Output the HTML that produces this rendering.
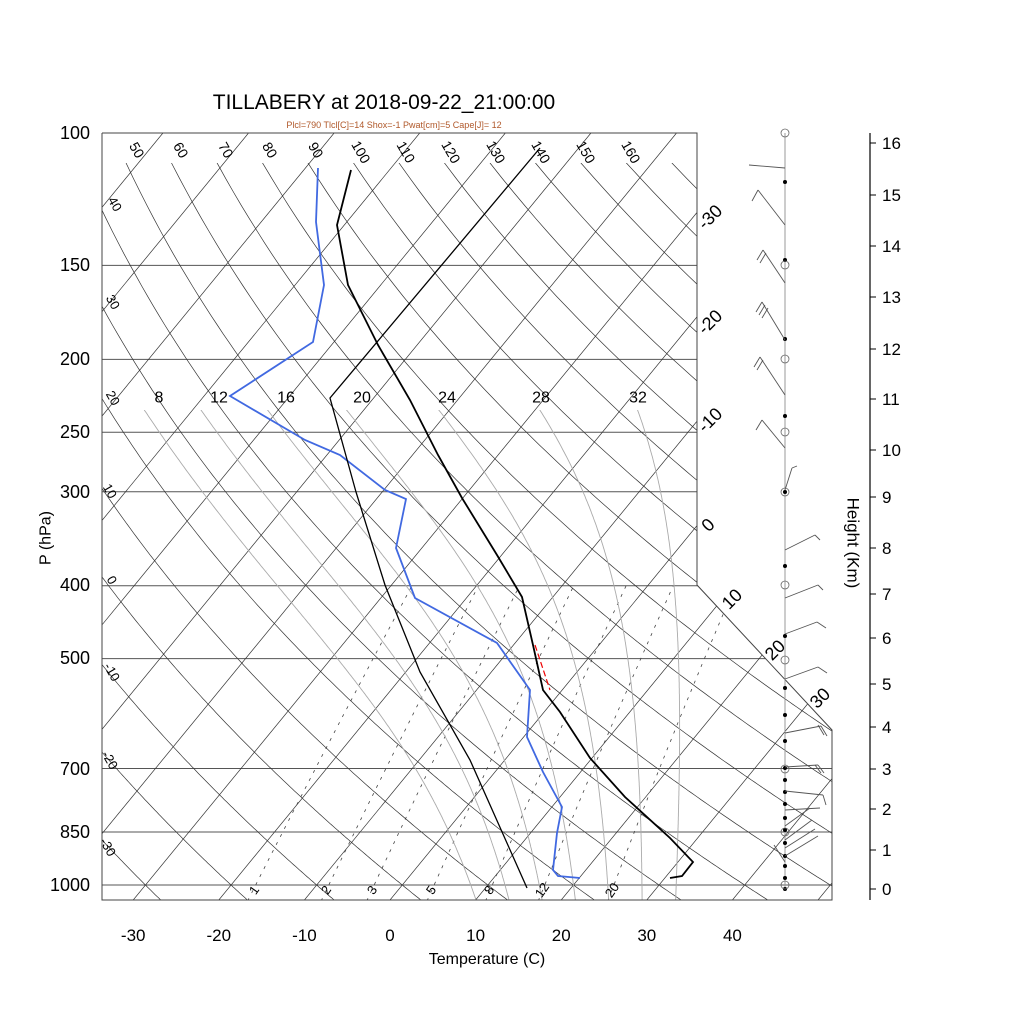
<!DOCTYPE html>
<html><head><meta charset="utf-8"><style>
html,body{margin:0;padding:0;background:#fff;}
svg{display:block;font-family:"Liberation Sans",Arial,sans-serif;}
</style></head><body>
<svg id="s" width="1024" height="1024" viewBox="0 0 1024 1024" xmlns="http://www.w3.org/2000/svg">
<defs><clipPath id="cp"><polygon points="102,133 697,133 697,585 832,730 832,900 102,900"/></clipPath>
<clipPath id="cpa"><polygon points="120,163 697,163 697,585 832,730 832,900 102,900 102,163"/></clipPath>
<clipPath id="cpm"><polygon points="102,410 697,410 697,585 832,730 832,900 102,900"/></clipPath>
</defs>
<rect width="1024" height="1024" fill="#fff"/>
<text x="384" y="109" font-size="21" text-anchor="middle">TILLABERY at 2018-09-22_21:00:00</text>
<text x="394" y="128" font-size="9" fill="#b0582a" text-anchor="middle">Plcl=790 Tlcl[C]=14 Shox=-1 Pwat[cm]=5 Cape[J]= 12</text>
<g id="grid"></g>
<g id="lab" font-size="12"></g>
</svg>
<script>
var NS="http://www.w3.org/2000/svg",S=document.getElementById('s'),G=document.getElementById('grid'),L=document.getElementById('lab');
function Y(p){return 133+326.6*Math.log(p/100);}
function X(T,y){return 390+8.56*T+0.82*(900-y);}
function el(tag,a,par){var e=document.createElementNS(NS,tag);for(var k in a)e.setAttribute(k,a[k]);(par||G).appendChild(e);return e;}
function pl(pts,a,par){a.points=pts.map(function(q){return q[0].toFixed(1)+','+q[1].toFixed(1)}).join(' ');a.fill='none';return el('polyline',a,par);}
var cg=el('g',{'clip-path':'url(#cp)'});
[100,150,200,250,300,400,500,700,850,1000].forEach(function(p){var y=Y(p);el('line',{x1:102,x2:840,y1:y,y2:y,stroke:'#555','stroke-width':1},cg);});
for(var T=-130;T<=50;T+=10){el('line',{x1:X(T,900),y1:900,x2:X(T,133),y2:133,stroke:'#333','stroke-width':0.7},cg);}
var ag=el('g',{'clip-path':'url(#cpa)'});
for(var th=-40;th<=200;th+=10){var pts=[];for(var p=1050;p>=95;p-=5){var t=(th+273.15)*Math.pow(p/1000,0.286)-273.15;var y=Y(p);pts.push([X(t,y),y]);}pl(pts,{stroke:'#333','stroke-width':0.7},ag);}
function es(T){return 6.112*Math.exp(17.67*T/(T+243.5));}
[1,2,3,5,8,12,20].forEach(function(w){var pts=[];for(var p=1050;p>=400;p-=10){var e=w*p/(622+w);var l=Math.log(e/6.112);var t=243.5*l/(17.67-l);var y=Y(p);pts.push([X(t,y),y]);}pl(pts,{stroke:'#444','stroke-width':0.8,'stroke-dasharray':'3,6'},cg);});
var mg=el('g',{'clip-path':'url(#cpm)'});
function lapse(T,p){var Tk=T+273.15,e=es(T),rs=0.622*e/(p-e),Lv=2.5e6,Rd=287,cp=1004;return (Rd*Tk+Lv*rs)/(cp+Lv*Lv*rs*0.622/(Rd*Tk*Tk));}
[8,12,16,20,24,28,32].forEach(function(tw){var pts=[];var tt=tw;for(var pp=1000;pp<1050;pp+=5){tt+=lapse(tt,pp)*Math.log((pp+5)/pp);}pts.push([X(tt,Y(1050)),Y(1050)]);var t=tw;
for(var p=1000;p>=100;p-=2){var y=Y(p);pts.push([X(t,y),y]);t-=lapse(t,p)*Math.log(p/(p-2));}pl(pts,{stroke:'#aaa','stroke-width':0.9},mg);});
el('polyline',{points:'102,133 697,133 697,585 832,730 832,900 102,900 102,133',fill:'none',stroke:'#444','stroke-width':1});
function tx(x,y,s,fs,rot,par,col){var a={x:x,y:y,'font-size':fs,'text-anchor':'middle','dominant-baseline':'central'};if(rot)a.transform='rotate('+rot+' '+x+' '+y+')';if(col)a.fill=col;var e=el('text',a,par||L);e.textContent=s;return e;}
[[137,150,'50'],[181,150,'60'],[226,150,'70'],[270,150,'80'],[316,150,'90'],[361,152,'100'],[406,152,'110'],[451,152,'120'],[496,152,'130'],[541,152,'140'],[586,152,'150'],[631,152,'160']].forEach(function(a){tx(a[0],a[1],a[2],14,60);});
[[115,204,'40'],[113,302,'30'],[113,398,'20'],[110,491,'10'],[112,580,'0'],[112,672,'-10'],[110,760,'-20'],[108,847,'-30']].forEach(function(a){tx(a[0],a[1],a[2],13,60);});
[[159,398,'8'],[219,398,'12'],[286,398,'16'],[362,398,'20'],[447,398,'24'],[541,398,'28'],[638,398,'32']].forEach(function(a){tx(a[0],a[1],a[2],16,0);});
[[710,217,'-30'],[710,322,'-20'],[710,420,'-10'],[708,525,'0'],[732,599,'10'],[775,650,'20'],[820,698,'30']].forEach(function(a){tx(a[0],a[1],a[2],18,-45);});
[[254,890,'1'],[326,890,'2'],[372,890,'3'],[431,890,'5'],[489,890,'8'],[542,890,'12'],[612,890,'20']].forEach(function(a){tx(a[0],a[1],a[2],13,-55);});
[[100,133],[150,265],[200,359],[250,432],[300,492],[400,585],[500,658],[700,769],[850,832],[1000,885]].forEach(function(a){var e=el('text',{x:90,y:a[1]+6,'font-size':18,'text-anchor':'end'},L);e.textContent=a[0];});
for(var T=-30;T<=40;T+=10){var e=el('text',{x:390+8.56*T,y:941,'font-size':17,'text-anchor':'middle'},L);e.textContent=T;}
var e=el('text',{x:487,y:964,'font-size':16,'text-anchor':'middle'},L);e.textContent='Temperature (C)';
tx(46,538,'P (hPa)',16,-90);
el('line',{x1:870,y1:133,x2:870,y2:900,stroke:'#000','stroke-width':1.2});
var HY=[889,850,809,769,727,684,638,594,548,497,450,399,349,297,246,195,143];
for(var k=0;k<=16;k++){var y=HY[k];el('line',{x1:870,x2:876,y1:y,y2:y,stroke:'#000'});var t=el('text',{x:882,y:y+6,'font-size':17},L);t.textContent=k;}
tx(853,543,'Height (Km)',17,90);
pl([[351,170],[337,225],[348,285],[378,345],[410,400],[438,455],[462,498],[497,555],[522,597],[533,645],[543,690],[560,712],[590,758],[625,797],[670,838],[693,862],[682,876],[670,878]],{stroke:'#000','stroke-width':1.8});
pl([[318,168],[316,222],[324,285],[313,342],[230,396],[305,440],[340,455],[385,490],[406,499],[396,548],[415,598],[497,643],[530,690],[527,737],[543,772],[562,807],[557,833],[553,870],[558,876],[580,878]],{stroke:'#4169e1','stroke-width':1.8});
pl([[540,148],[330,398],[356,492],[385,585],[420,672],[470,760],[527,888]],{stroke:'#000','stroke-width':1.3});
el('line',{x1:535,y1:645,x2:550,y2:690,stroke:'#e00','stroke-width':1.2,'stroke-dasharray':'6,3'});
el('line',{x1:785,y1:133,x2:785,y2:890,stroke:'#999','stroke-width':1});
[182,260,339,416,492,566,636,688,715,741,768,780,792,804,818,830,843,856,866,878,889].forEach(function(y){el('circle',{cx:785,cy:y,r:2,fill:'#000'});});
[133,265,359,432,492,585,660,769,832,885].forEach(function(y){el('circle',{cx:785,cy:y,r:4,fill:'none',stroke:'#666','stroke-width':0.8});});
var B=[[168,749,165,[]],[225,758,190,[[0,0,-6,11]]],[283,763,250,[[0,0,-6,10],[3,3,-6,10]]],[340,762,302,[[0,0,-6,10],[3,3,-6,10],[6,6,-6,10]]],[395,760,357,[[0,0,-6,10],[3,3,-6,10]]],[448,762,420,[[0,0,-6,10]]],[490,792,468,[[0,0,5,-2]]],[550,815,535,[[0,0,5,5]]],[598,818,585,[[0,0,5,5]]],[634,817,622,[[0,0,9,6]]],[679,818,667,[[0,0,9,6]]],[733,821,726,[[0,0,6,10],[-3,-1,6,10]]],[767,818,765,[[0,0,6,8],[-3,0,6,8]]],[791,823,795,[[0,0,3,10]]],[810,820,808,[]],[826,810,808,[]],[840,812,820,[]],[848,815,829,[]],[856,818,836,[]],[862,774,845,[]]];
B.forEach(function(b){el('line',{x1:785,y1:b[0],x2:b[1],y2:b[2],stroke:'#555','stroke-width':0.9});b[3].forEach(function(f){var x=b[1]+f[0],y=b[2]+f[1];el('line',{x1:x,y1:y,x2:x+f[2],y2:y+f[3],stroke:'#555','stroke-width':0.9});});});
</script>
</body></html>
